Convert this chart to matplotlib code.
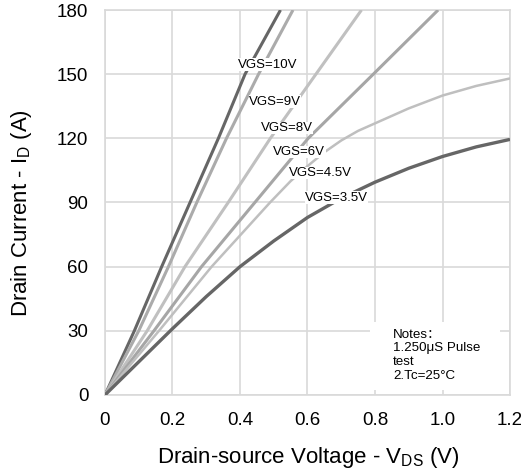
import matplotlib
matplotlib.use("Agg")
import matplotlib.pyplot as plt
from matplotlib.patches import Rectangle

plt.rcParams["font.family"] = ["Liberation Sans", "Noto Sans CJK SC", "DejaVu Sans"]
plt.rcParams["mathtext.default"] = "regular"

# drain current (A) read at each drain-source voltage (V)
vgs_10_v = [0, 0.087, 0.168, 0.252, 0.336, 0.415, 0.52]
vgs_10_i = [0, 30, 60, 90, 120, 150, 180]
vgs_9_v = [0, 0.10, 0.188, 0.272, 0.36, 0.455, 0.557]
vgs_9_i = [0, 30, 60, 90, 120, 150, 180]
vgs_8_v = [0, 0.125, 0.237, 0.365, 0.49, 0.625, 0.76]
vgs_8_i = [0, 30, 60, 90, 120, 150, 180]
vgs_6_v = [0, 0.145, 0.286, 0.444, 0.602, 0.795, 0.987]
vgs_6_i = [0, 30, 60, 90, 120, 150, 180]
vgs_45_v = [0, 0.16, 0.316, 0.489, 0.55, 0.6, 0.65, 0.7, 0.75, 0.8, 0.9, 1.0, 1.1, 1.2]
vgs_45_i = [0, 30, 60, 90, 100, 107, 113.5, 119, 123.5, 127, 134, 140, 144.5, 148]
vgs_35_v = [0, 0.2, 0.3, 0.4, 0.5, 0.6, 0.7, 0.8, 0.9, 1.0, 1.1, 1.2]
vgs_35_i = [0, 31, 46, 60, 72, 83, 92, 99.5, 106, 111.5, 116, 119.5]

x_ticks = [0, 0.2, 0.4, 0.6, 0.8, 1.0, 1.2]
x_tick_labels = ["0", "0.2", "0.4", "0.6", "0.8", "1.0", "1.2"]
y_ticks = [0, 30, 60, 90, 120, 150, 180]

curves = [
    (vgs_10_v, vgs_10_i, "VGS=10V", "#666666", 2.2, (0.483, 154.5)),
    (vgs_9_v, vgs_9_i, "VGS=9V", "#ababab", 2.2, (0.504, 137.2)),
    (vgs_8_v, vgs_8_i, "VGS=8V", "#c0c0c0", 2.2, (0.538, 124.8)),
    (vgs_6_v, vgs_6_i, "VGS=6V", "#a6a6a6", 2.2, (0.576, 113.6)),
    (vgs_45_v, vgs_45_i, "VGS=4.5V", "#bfbfbf", 1.8, (0.639, 103.8)),
    (vgs_35_v, vgs_35_i, "VGS=3.5V", "#666666", 2.4, (0.686, 92.2)),
]

fig = plt.figure(figsize=(5.21, 4.74), dpi=100)
ax = fig.add_axes([0.2015, 0.1667, 0.7774, 0.8122])
ax.set_axisbelow(True)

for v, i, label, color, lw, pos in curves:
    ax.plot(v, i, color=color, linewidth=lw, solid_capstyle="butt",
            solid_joinstyle="round", zorder=3)
    ax.text(pos[0], pos[1], label, fontsize=9.5, ha="center", va="center",
            zorder=5, bbox=dict(facecolor="white", edgecolor="none", pad=0.3))

ax.set_xlim(0, 1.2)
ax.set_ylim(0, 180)
ax.set_xticks(x_ticks)
ax.set_xticklabels(x_tick_labels)
ax.set_yticks(y_ticks)
ax.tick_params(axis="both", length=0, labelsize=13.5)
ax.tick_params(axis="x", pad=12)
ax.tick_params(axis="y", pad=12)
ax.grid(True, color="#d9d9d9", linewidth=1.2)
for s in ax.spines.values():
    s.set_color("#d9d9d9")
    s.set_linewidth(1.2)

# white notes box over the grid
ax.add_patch(Rectangle((0.785, 2.5), 0.385, 31.5, facecolor="white",
                       edgecolor="none", zorder=1))
ax.text(0.853, 31.0, "Notes：\n1.250μS Pulse\ntest\n2.Tc=25°C",
        fontsize=9.6, ha="left", va="top", linespacing=1.18, zorder=5)

fig.text(308 / 521, 0.034, "Drain-source Voltage - V$_{DS}$ (V)",
         fontsize=16, ha="center", va="center")
fig.text(22 / 521, 0.55, "Drain Current - I$_{D}$ (A)",
         fontsize=16, ha="center", va="center", rotation=90)

fig.savefig("out.png", dpi=100)
